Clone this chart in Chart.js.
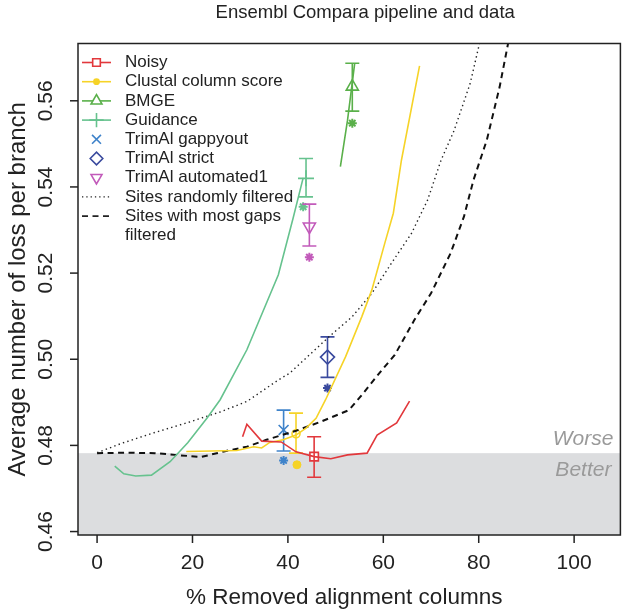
<!DOCTYPE html>
<html>
<head>
<meta charset="utf-8">
<script src="https://cdn.jsdelivr.net/npm/chart.js@4.4.1/dist/chart.umd.min.js"></script>
<style>
  html, body { margin: 0; padding: 0; background: #fff; }
  canvas { display: block; }
</style>
</head>
<body>
<canvas id="myChart" width="630" height="614"></canvas>
<script>
// curves: x = % removed alignment columns, y = average number of loss per branch
let noisyX = [30.5, 31.4, 34.5, 38.6, 41.7, 45.5, 49.0, 52.5, 56.6, 58.7, 62.8, 65.5];
let noisyY = [0.4820, 0.4849, 0.4810, 0.4808, 0.4785, 0.4774, 0.4769, 0.4778, 0.4782, 0.4824, 0.4852, 0.4903];

let clustalX = [18.7, 29.3, 32.8, 34.5, 36.2, 39.0, 41.7, 43.8, 45.9, 47.9, 52.1, 55.5, 57.6, 60.3, 62.1, 63.8, 67.6];
let clustalY = [0.4786, 0.4788, 0.4797, 0.4794, 0.4807, 0.4813, 0.4824, 0.4840, 0.4863, 0.4906, 0.5006, 0.5099, 0.5161, 0.5269, 0.5339, 0.5462, 0.5681];

let bmgeX = [51.0, 52.5, 54.0];
let bmgeY = [0.5447, 0.5555, 0.5687];

let guidanceX = [3.7, 5.6, 8.1, 11.4, 15.3, 19.0, 23.1, 25.8, 31.4, 38.0, 41.1, 43.2];
let guidanceY = [0.4752, 0.4734, 0.4729, 0.4731, 0.4762, 0.4806, 0.4864, 0.4906, 0.5022, 0.5196, 0.5328, 0.5421];

let randomX = [0, 5.2, 12.1, 19.0, 25.9, 31.4, 38.0, 40.4, 48.6, 53.5, 57.6, 61.7, 65.9, 69.3, 72.1, 74.8, 78.2, 81.3];
let randomY = [0.4783, 0.4805, 0.4830, 0.4853, 0.4878, 0.4902, 0.4952, 0.4968, 0.5052, 0.5099, 0.5153, 0.5223, 0.5292, 0.5370, 0.5462, 0.5530, 0.5640, 0.5787];

let gapsX = [0, 6.6, 12.1, 16.3, 21.8, 26.6, 31.4, 35.5, 41.7, 46.9, 52.8, 55.5, 59.7, 62.4, 66.5, 70.0, 74.1, 76.9, 78.9, 81.7, 84.4, 87.1];
let gapsY = [0.4782, 0.4783, 0.4782, 0.4778, 0.4773, 0.4786, 0.4797, 0.4813, 0.4834, 0.4855, 0.4882, 0.4917, 0.4975, 0.5010, 0.5091, 0.5153, 0.5246, 0.5331, 0.5416, 0.5509, 0.5633, 0.5787];

// one point per method, with error bar and default-parameter point
let methods = ['Noisy', 'Clustal column score', 'BMGE', 'Guidance', 'TrimAl gappyout', 'TrimAl strict', 'TrimAl automated1'];
let pointX = [45.5, 41.7, 53.5, 43.8, 39.1, 48.3, 44.5];
let pointY = [0.4774, 0.4827, 0.5633, 0.5420, 0.4836, 0.5005, 0.5308];
let errLow = [0.4726, 0.4782, 0.5576, 0.5377, 0.4787, 0.4958, 0.5263];
let errHigh = [0.4820, 0.4875, 0.5687, 0.5466, 0.4882, 0.5052, 0.5360];
let defaultX = [null, 41.9, 53.5, 43.2, 39.1, 48.3, 44.5];
let defaultY = [null, 0.4755, 0.5548, 0.5354, 0.4765, 0.4933, 0.5237];

let baseline = 0.4782;   // unfiltered alignment, below = better
let xTicks = [0, 20, 40, 60, 80, 100];
let yTicks = [0.46, 0.48, 0.50, 0.52, 0.54, 0.56];

let colors = ['#E2383C', '#F6D327', '#5AB04A', '#66C28E', '#3F83CA', '#3A4A9E', '#C25ABA'];
let markers = [
    {style: 'rect', r: 6, rot: 0},
    {style: 'circle', r: 4, rot: 0},
    {style: 'triangle', r: 7, rot: 0},
    {style: 'cross', r: 8, rot: 0},
    {style: 'crossRot', r: 7, rot: 0},
    {style: 'rectRot', r: 7, rot: 0},
    {style: 'triangle', r: 7, rot: 180}
];

const FONT = '"Liberation Sans", Arial, Helvetica, sans-serif';

function pts(xs, ys) {
    return xs.map((x, i) => ({x: x, y: ys[i]}));
}

function curve(xs, ys, color, extra) {
    return Object.assign({
        data: pts(xs, ys),
        showLine: true,
        borderColor: color,
        borderWidth: 1.6,
        pointRadius: 0,
        tension: 0
    }, extra || {});
}

let datasets = [
    curve(noisyX, noisyY, colors[0]),
    curve(clustalX, clustalY, colors[1]),
    curve(bmgeX, bmgeY, colors[2]),
    curve(guidanceX, guidanceY, colors[3]),
    curve(randomX, randomY, '#222', {borderWidth: 1.4, borderDash: [1.4, 3.2]}),
    curve(gapsX, gapsY, '#111', {borderWidth: 2, borderDash: [6, 4.5]})
];

// error bars
methods.forEach((m, i) => {
    datasets.push({
        data: [{x: pointX[i], y: errLow[i]}, {x: pointX[i], y: errHigh[i]}],
        showLine: true,
        borderColor: colors[i],
        borderWidth: 1.6,
        pointStyle: 'line',
        pointRadius: 7,
        pointBorderColor: colors[i],
        pointBorderWidth: 1.6
    });
});

// method markers
methods.forEach((m, i) => {
    datasets.push({
        data: [{x: pointX[i], y: pointY[i]}],
        pointStyle: markers[i].style,
        rotation: markers[i].rot,
        pointRadius: markers[i].r,
        pointBackgroundColor: 'rgba(255,255,255,0.9)',
        pointBorderColor: colors[i],
        pointBorderWidth: 1.6
    });
});

// default parameter points (asterisks)
methods.forEach((m, i) => {
    if (defaultX[i] === null) return;
    let dot = i === 1;
    datasets.push({
        data: [{x: defaultX[i], y: defaultY[i]}],
        pointStyle: dot ? 'circle' : 'star',
        pointRadius: dot ? 4 : 4.5,
        pointBackgroundColor: colors[i],
        pointBorderColor: colors[i],
        pointBorderWidth: dot ? 1 : 2
    });
});

function drawMarker(ctx, style, r, rot, x, y, color, fill) {
    ctx.save();
    ctx.strokeStyle = color;
    ctx.fillStyle = fill;
    ctx.lineWidth = 1.6;
    Chart.helpers.drawPoint(ctx, {pointStyle: style, radius: r, rotation: rot, borderWidth: 1.6}, x, y);
    ctx.restore();
}

const frame = {
    id: 'frame',
    beforeDatasetsDraw(chart) {
        const {ctx, chartArea: a, scales: {y}} = chart;
        let yb = y.getPixelForValue(baseline);
        ctx.save();
        ctx.fillStyle = '#DCDDDF';
        ctx.fillRect(a.left, yb, a.right - a.left, a.bottom - yb);
        ctx.restore();
    },
    afterDraw(chart) {
        const {ctx, chartArea: a, scales: {x, y}} = chart;
        ctx.save();
        // box
        ctx.strokeStyle = '#222';
        ctx.lineWidth = 1.5;
        ctx.strokeRect(a.left, a.top, a.right - a.left, a.bottom - a.top);

        // ticks and tick labels
        ctx.fillStyle = '#222';
        ctx.font = '21px ' + FONT;
        ctx.textAlign = 'center';
        ctx.textBaseline = 'middle';
        xTicks.forEach(v => {
            let px = x.getPixelForValue(v);
            ctx.beginPath();
            ctx.moveTo(px, a.bottom);
            ctx.lineTo(px, a.bottom + 8);
            ctx.stroke();
            ctx.fillText(String(v), px, 563);
        });
        yTicks.forEach(v => {
            let py = y.getPixelForValue(v);
            ctx.beginPath();
            ctx.moveTo(a.left - 8, py);
            ctx.lineTo(a.left, py);
            ctx.stroke();
            ctx.save();
            ctx.translate(46, py);
            ctx.rotate(-Math.PI / 2);
            ctx.fillText(v.toFixed(2), 0, 0);
            ctx.restore();
        });

        // axis titles and main title
        let cx = (a.left + a.right) / 2;
        let cy = (a.top + a.bottom) / 2;
        ctx.font = '22.5px ' + FONT;
        ctx.fillText('% Removed alignment columns', cx - 5, 598);
        ctx.save();
        ctx.translate(18, cy);
        ctx.rotate(-Math.PI / 2);
        ctx.font = '24px ' + FONT;
        ctx.fillText('Average number of loss per branch', 0, 0);
        ctx.restore();
        ctx.font = '18.5px ' + FONT;
        ctx.fillText('Ensembl Compara pipeline and data', cx + 16, 13);

        // worse / better
        ctx.fillStyle = '#9A9A9A';
        ctx.font = 'italic 21px ' + FONT;
        ctx.textAlign = 'right';
        ctx.textBaseline = 'alphabetic';
        ctx.fillText('Worse', a.right - 7, 444.5);
        ctx.fillText('Better', a.right - 9, 475.5);

        // legend
        let rowY = i => 62.5 + i * 19.2;
        let x0 = 82, x1 = 111, xm = 96.5, xt = 125;
        ctx.font = '17px ' + FONT;
        ctx.textAlign = 'left';
        ctx.textBaseline = 'middle';
        methods.forEach((m, i) => {
            let yy = rowY(i);
            if (i < 4) {
                ctx.strokeStyle = colors[i];
                ctx.lineWidth = 1.6;
                ctx.beginPath();
                ctx.moveTo(x0, yy);
                ctx.lineTo(x1, yy);
                ctx.stroke();
            }
            if (i === 1) {
                drawMarker(ctx, 'circle', 2.6, 0, xm, yy, colors[i], colors[i]);
            } else {
                drawMarker(ctx, markers[i].style, markers[i].r * 0.9, markers[i].rot, xm, yy, colors[i], '#fff');
            }
            ctx.fillStyle = '#222';
            ctx.fillText(m, xt, yy);
        });
        ctx.strokeStyle = '#222';
        ctx.lineWidth = 1.2;
        ctx.setLineDash([1.3, 3]);
        ctx.beginPath();
        ctx.moveTo(x0, rowY(7));
        ctx.lineTo(x1, rowY(7));
        ctx.stroke();
        ctx.lineWidth = 1.6;
        ctx.setLineDash([6, 4.5]);
        ctx.beginPath();
        ctx.moveTo(x0, rowY(8));
        ctx.lineTo(x1, rowY(8));
        ctx.stroke();
        ctx.setLineDash([]);
        ctx.fillStyle = '#222';
        ctx.fillText('Sites randomly filtered', xt, rowY(7));
        ctx.fillText('Sites with most gaps', xt, rowY(8));
        ctx.fillText('filtered', xt, rowY(9));
        ctx.restore();
    }
};

let ctx = document.getElementById('myChart').getContext('2d');
let chart = new Chart(ctx, {
    type: 'scatter',
    data: {datasets: datasets},
    options: {
        responsive: false,
        devicePixelRatio: 1,
        animation: false,
        events: [],
        layout: {padding: {left: 78, right: 1, top: 43.5, bottom: 79}},
        plugins: {legend: {display: false}, tooltip: {enabled: false}},
        scales: {
            x: {type: 'linear', display: false, min: -4.0, max: 109.7},
            y: {type: 'linear', display: false, min: 0.4592, max: 0.5733}
        }
    },
    plugins: [frame]
});
</script>
</body>
</html>
